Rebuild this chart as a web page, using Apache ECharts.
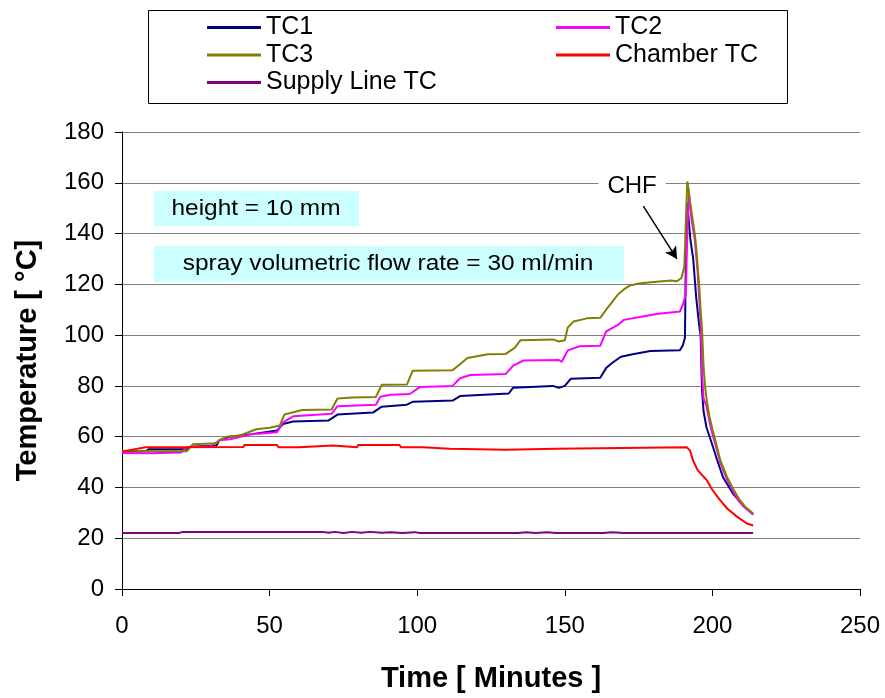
<!DOCTYPE html>
<html>
<head>
<meta charset="utf-8">
<script src="https://cdn.jsdelivr.net/npm/echarts@6/dist/echarts.min.js"></script>
<style>html,body{margin:0;padding:0;background:#fff}#c{width:885px;height:698px}</style>
</head>
<body>
<div id="c"></div>
<script>
// ---- data (time in minutes, temperature in °C) ----
const seriesNames = ['TC1', 'TC2', 'TC3', 'Chamber TC', 'Supply Line TC'];
const xTicks = [0, 50, 100, 150, 200, 250];
const yTicks = [0, 20, 40, 60, 80, 100, 120, 140, 160, 180];

const tc1 = [[0,54.3],[8,54.3],[9,55],[22,55],[23,56],[32,56.5],[33,58.6],[36.6,60],[44,61],[52.5,62.4],[54.5,65],[58,66],[70,66.4],[73,68.7],[85,69.5],[88,71.8],[96.5,72.6],[98.6,73.8],[112,74.2],[114.5,76],[131,77],[132.5,79.3],[146,80],[148,79.2],[150,80],[152,82.8],[162,83.2],[164,87],[166,89],[169,91.5],[173,92.5],[179,93.7],[189,94],[190,96],[190.7,99],[191,130],[191.5,152],[192,145],[192.5,138],[193.5,130],[194.5,115],[195.5,104],[196,100],[196.5,78],[197,70],[198,63.6],[199.9,57],[201.6,50.8],[203.6,44],[207,37.5],[210.4,33],[213.8,29.3]];

const tc2 = [[0,53.6],[10,53.5],[20,53.8],[22,55.8],[30,56.2],[33,58.6],[36.6,59],[44,61],[52.5,61.7],[54.5,65.6],[58,68],[71,69],[73,72],[86,72.6],[87.5,75.7],[91,76.5],[97.5,76.8],[101,79.6],[112,80],[114.5,83],[118,84.3],[130,84.7],[132.5,88],[136,90],[148,90.2],[149,89.5],[151,94],[155,95.6],[162,95.8],[164,101.5],[168,104],[170,106],[175,107],[181,108.3],[189,109.3],[190,112],[191,116],[191.5,140],[192,156],[192.5,150],[193,145],[194,138],[195,125],[195.5,115],[196,105],[196.5,85],[197,75],[198,72],[199,66],[200,61],[201,57],[202.6,50],[205,43],[207,38.5],[209,34.5],[211,32],[213.8,29.5]];

const tc3 = [[0,54.5],[5,54.5],[10,54.3],[22,54.3],[24,57],[32,57.4],[33,58.6],[35.5,60],[40,60.5],[45.5,62.9],[50,63.5],[53.5,64.4],[55,68.7],[61,70.5],[71,70.7],[73,75],[78,75.4],[86,75.6],[88,80.4],[96.5,80.5],[98.5,86],[112,86.2],[114,88],[117,91],[124,92.5],[130,92.6],[133,95],[135,98],[146,98.3],[148,97.5],[150,98],[151,103],[153,105.4],[157.5,106.6],[162,106.8],[164,110],[166,113],[168,116],[170,118],[172,119.5],[175,120.3],[181,121],[186,121.5],[188,121.2],[189.5,122.5],[190.5,127],[191,145],[191.5,160.5],[192,157],[192.5,152],[193,148],[194,140],[194.5,135],[195,127],[195.5,120],[196,110],[196.5,102],[197,88],[197.5,80],[198,75],[199,68],[200,63],[201,58.6],[202.6,51],[205,44],[207,39.5],[209,35.5],[211,32.5],[213.8,29.7]];

const chamber = [[0,54],[3,54.8],[8,55.8],[41,55.9],[41.5,56.7],[52.5,56.7],[53,55.8],[60,55.8],[60.5,56.5],[71.5,56.5],[72,55.8],[79.6,55.8],[80,56.7],[94,56.7],[94.5,55.8],[102,55.8],[102.5,55.2],[111,55.2],[111.5,54.8],[130,54.8],[130.5,55.2],[147,55.2],[147.5,55.8],[191.3,55.8],[192.4,54.6],[193.4,50.7],[195,46.8],[198,43],[200,39],[202.6,35],[205,31.7],[208.3,28.5],[211.7,25.8],[213.8,25]];

const supply = [[0,22.1],[18,22.1],[18.6,22.5],[19.5,22.1],[20.5,22.5],[22,22.5],[68,22.5],[70,22.2],[72,22.5],[75,22.1],[78,22.5],[81,22.2],[84,22.5],[88,22.2],[91,22.4],[95,22.1],[99,22.4],[101,22.1],[134,22.1],[137,22.4],[140,22.1],[144,22.4],[147,22.1],[163,22.1],[166,22.4],[170,22.1],[174,22.1],[213.8,22.1]];

const seriesData = [tc1, tc2, tc3, chamber, supply];
const colors = ['#000080', '#FF00FF', '#808000', '#FF0000', '#800080'];

const FONT = "'Liberation Sans', Arial, sans-serif";
const chart = echarts.init(document.getElementById('c'), null, {renderer: 'canvas'});

const series = seriesNames.map((n, i) => ({
  name: n,
  type: 'line',
  data: seriesData[i],
  showSymbol: false,
  symbol: 'none',
  lineStyle: {color: colors[i], width: 2},
  itemStyle: {color: colors[i]},
  z: 2 + i,
  animation: false
}));

// CHF arrow
series[2].markLine = {
  silent: true,
  animation: false,
  symbol: ['none', 'arrow'],
  symbolSize: [10, 12],
  label: {show: false},
  lineStyle: {color: '#000', width: 1.5, type: 'solid'},
  data: [[{coord: [176.6, 150.8]}, {coord: [188.0, 130.0]}]]
};

const legendCommon = {
  orient: 'vertical',
  icon: 'rect',
  itemWidth: 54,
  itemHeight: 3,
  itemGap: 2.5,
  padding: 0,
  selectedMode: false,
  textStyle: {fontFamily: FONT, fontSize: 25, color: '#000', lineHeight: 25}
};

chart.setOption({
  animation: false,
  backgroundColor: '#fff',
  color: colors,
  grid: {left: 122, right: 25, top: 132, bottom: 105, containLabel: false},
  legend: [
    Object.assign({}, legendCommon, {left: 207, top: 15, data: ['TC1', 'TC3', 'Supply Line TC']}),
    Object.assign({}, legendCommon, {left: 556, top: 15, data: ['TC2', 'Chamber TC']})
  ],
  xAxis: {
    type: 'value',
    min: xTicks[0], max: xTicks[xTicks.length - 1], interval: 50,
    name: 'Time [ Minutes ]',
    nameLocation: 'middle',
    nameGap: 75,
    nameTextStyle: {fontFamily: FONT, fontSize: 29, fontWeight: 'bold', color: '#000'},
    axisLine: {show: true, lineStyle: {color: '#000', width: 1}},
    axisTick: {show: true, length: 7, lineStyle: {color: '#000'}},
    axisLabel: {fontFamily: FONT, fontSize: 24, color: '#000', margin: 25},
    splitLine: {show: false}
  },
  yAxis: {
    type: 'value',
    min: yTicks[0], max: yTicks[yTicks.length - 1], interval: 20,
    name: 'Temperature [ °C]',
    nameLocation: 'middle',
    nameGap: 80,
    nameRotate: 90,
    nameTextStyle: {fontFamily: FONT, fontSize: 29, fontWeight: 'bold', color: '#000'},
    axisLine: {show: true, lineStyle: {color: '#000', width: 1}},
    axisTick: {show: true, length: 7, lineStyle: {color: '#000'}},
    axisLabel: {fontFamily: FONT, fontSize: 24, color: '#000', margin: 18},
    splitLine: {show: true, lineStyle: {color: '#808080', width: 1}}
  },
  series: series
});

const chfPos = chart.convertToPixel({gridIndex: 0}, [172.8, 158.5]);

chart.setOption({
  graphic: [
    {type: 'rect', shape: {x: 148.5, y: 10.5, width: 639, height: 93}, style: {fill: 'none', stroke: '#000', lineWidth: 1}, z: 0},
    {type: 'rect', shape: {x: 154, y: 191, width: 205, height: 35}, style: {fill: '#CCFFFF'}, z: 10},
    {type: 'text', x: 256, y: 209, scaleX: 1.11, style: {text: 'height = 10 mm', font: "22px " + FONT, fill: '#000', align: 'center', verticalAlign: 'middle'}, z: 11},
    {type: 'rect', shape: {x: 154, y: 246, width: 470, height: 36}, style: {fill: '#CCFFFF'}, z: 10},
    {type: 'text', x: 388, y: 264, scaleX: 1.11, style: {text: 'spray volumetric flow rate = 30 ml/min', font: "22px " + FONT, fill: '#000', align: 'center', verticalAlign: 'middle'}, z: 11},
    {type: 'text', x: chfPos[0], y: chfPos[1], style: {text: 'CHF', font: "24px " + FONT, fill: '#000', align: 'center', verticalAlign: 'middle', backgroundColor: '#fff', padding: [2, 9]}, z: 11}
  ]
});
</script>
</body>
</html>
